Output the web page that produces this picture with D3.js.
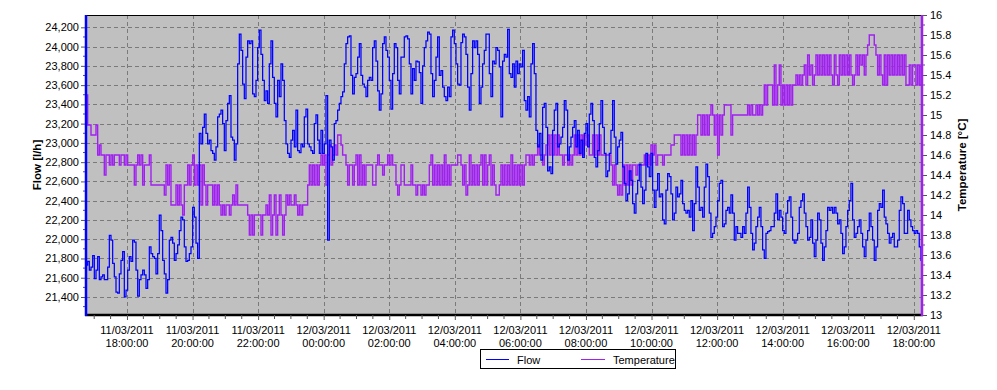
<!DOCTYPE html>
<html><head><meta charset="utf-8">
<script src="https://cdn.jsdelivr.net/npm/d3@7"></script>
<style>
body{margin:0;background:#fff;}
svg{display:block;font-family:"Liberation Sans",Arial,sans-serif;}
</style></head><body>
<svg id="chart" width="997" height="390"></svg>
<script>
// ---- data ----
const startTime = "2011-03-11T16:45:00";
const endTime = "2011-03-12T18:15:00";
const sampleSeconds = 183;
const seriesNames = ["Flow", "Temperature"];
const flowValues = [
21730,21770,21680,21710,21830,21590,21680,21820,21580,21610,
21630,21580,21580,21710,22040,21990,21750,21610,21450,21440,
21640,21780,21870,21400,21470,21680,21820,21770,21990,21970,
21680,21410,21580,21630,21680,21630,21490,21580,21920,21850,
21820,21800,21640,21850,22250,22090,21780,21640,21440,21580,
21990,22020,21960,21780,21850,21940,22090,22230,22200,21920,
21770,21780,21850,21920,22330,22230,21960,21800,23100,22990,
23160,23300,23100,22990,23030,22920,22890,22820,22960,23270,
23300,23340,23200,22920,23230,23410,23490,23060,23030,22820,
22990,23820,24130,23960,23610,23460,23890,24060,24030,24060,
23510,23480,23650,23990,24170,23920,23650,23440,23540,23410,
23820,24060,23680,23410,23270,23650,23480,23820,23650,23230,
22990,22890,22850,23030,23130,22960,23340,
22920,22900,22990,22960,23270,23350,22990,22960,22920,22890,
23200,23290,23030,22890,23130,22890,22990,23490,21990,23030,
22960,22820,23200,23230,23340,23410,23480,23530,23820,24030,
24100,24110,23700,23510,23680,23720,23890,24030,23700,23610,
23580,23480,23650,23680,23650,23990,24060,23850,23540,23340,
23510,24030,24100,23960,23890,23650,23350,23720,24030,23990,
23650,23510,23890,23890,24100,24110,24080,23820,23510,23770,
23650,23850,23840,23730,23410,23800,23990,24060,24150,24130,
23720,23480,23650,23890,24100,23700,23750,23580,23480,23440,
23580,23480,24100,24170,24030,23820,23610,23600,24040,24130,
24100,23920,23580,23340,23720,24060,23990,24060,23920,23410,
23580,23820,23960,24130,24130,23720,23480,23850,23820,23990,
23960,23790,23270,23850,23920,23890,
24180,23720,23680,23820,23580,23850,23720,23820,23790,23960,
23440,23340,23480,23270,23820,24030,23720,23130,22960,23100,
22820,23370,23410,23160,22710,22750,22680,23130,23340,23410,
22960,22990,23060,23160,23440,23340,22820,22960,23060,23160,
23230,22960,23130,22890,23030,22850,23100,23200,22960,23300,
23410,23230,22850,22750,22920,23200,23440,23160,22890,22650,
22710,22890,23130,23440,23060,22780,22960,23030,23110,22750,
22580,22400,22470,22710,22610,22370,22270,22470,22610,22780,
22540,22370,22510,22890,22750,22650,22890,22510,22330,22510,
22680,22440,22470,22200,22160,22510,22680,22650,22470,22200,
22270,22540,22440,22470,22610,22370,22300,22270,22300,22230,
22400,22090,22370,22750,22540,22300,22330,22230,22540,22780,
22650,22270,22020,22060,22130,22230,
22400,22580,22610,22130,22160,22300,22330,22270,22460,22270,
21990,22130,22060,22060,22020,22130,22060,22270,22540,22330,
22060,21890,21960,22130,22230,22330,22130,21890,21800,22060,
22080,22090,22130,22130,22270,22470,22200,22300,22230,22090,
22060,22270,22400,22440,22230,21990,21960,21990,22060,22330,
22400,22470,22270,22130,21990,22020,22200,21960,21820,21990,
22270,22200,21960,21780,21920,22090,22330,22300,22330,22270,
22330,22270,22160,22200,22060,21850,21920,22130,22300,22400,
22580,22200,22020,22060,22130,22200,22060,21920,21820,21990,
22090,22270,22130,21990,21780,21920,22300,22370,22330,22510,
22230,22160,22060,21960,22020,22060,21920,21920,21990,22300,
22440,22370,22060,22060,22300,22200,22130,22090,22060,22090,
22060,21920,21780,21750
];
const tempValues = [
15.2,14.9,14.9,14.8,14.8,14.8,14.9,14.6,14.7,14.6,
14.6,14.4,14.6,14.6,14.5,14.6,14.5,14.6,14.6,14.6,
14.5,14.6,14.6,14.5,14.6,14.5,14.5,14.5,14.5,14.3,
14.5,14.6,14.5,14.6,14.3,14.5,14.5,14.5,14.6,14.3,
14.3,14.3,14.3,14.3,14.3,14.3,14.3,14.2,14.5,14.3,
14.5,14.1,14.1,14.1,14.3,14.1,14.3,14.1,14.0,14.3,
14.3,14.5,14.3,14.5,14.6,14.3,14.5,14.3,14.5,14.1,
14.5,14.3,14.1,14.3,14.3,14.3,14.1,14.3,14.1,14.3,
14.1,14.0,14.1,14.0,14.1,14.1,14.0,14.1,14.2,14.1,
14.3,14.1,14.1,14.1,14.1,14.1,14.1,14.0,13.8,14.0,
13.8,14.0,14.0,14.0,14.0,13.8,14.0,14.0,14.1,14.0,
14.2,13.8,14.0,14.2,13.8,14.0,14.2,14.0,13.8,14.0,
14.2,14.1,14.2,14.1,14.1,14.2,14.1,
14.0,14.1,14.0,14.1,14.1,14.1,14.3,14.5,14.3,14.5,
14.3,14.5,14.3,14.5,14.6,14.5,14.6,14.3,14.6,14.7,
14.5,14.6,14.7,14.6,14.8,14.8,14.7,14.6,14.6,14.5,
14.3,14.5,14.5,14.3,14.5,14.6,14.3,14.6,14.3,14.5,
14.3,14.5,14.5,14.5,14.5,14.3,14.3,14.5,14.6,14.5,
14.5,14.4,14.5,14.5,14.6,14.5,14.6,14.5,14.5,14.3,
14.2,14.3,14.5,14.5,14.3,14.3,14.3,14.3,14.5,14.3,
14.3,14.2,14.3,14.3,14.2,14.3,14.2,14.3,14.3,14.5,
14.6,14.3,14.5,14.3,14.5,14.3,14.5,14.3,14.6,14.3,
14.5,14.3,14.5,14.5,14.5,14.5,14.6,14.6,14.5,14.3,
14.5,14.2,14.3,14.6,14.3,14.5,14.3,14.5,14.3,14.5,
14.6,14.3,14.6,14.3,14.5,14.6,14.3,14.5,14.3,14.2,
14.2,14.3,14.5,14.3,14.5,14.3,
14.5,14.3,14.6,14.3,14.5,14.3,14.5,14.3,14.5,14.3,
14.5,14.6,14.6,14.5,14.6,14.5,14.6,14.6,14.7,14.6,
14.6,14.5,14.6,14.7,14.8,14.6,14.8,14.6,14.8,14.6,
14.8,14.6,14.6,14.5,14.6,14.6,14.5,14.6,14.5,14.6,
14.8,14.6,14.8,14.6,14.8,14.6,14.8,14.7,14.8,14.6,
14.6,14.8,14.6,14.8,14.6,14.8,14.6,14.6,14.6,14.6,
14.6,14.6,14.5,14.3,14.5,14.3,14.2,14.3,14.2,14.5,
14.3,14.5,14.3,14.5,14.3,14.5,14.5,14.4,14.5,14.5,
14.5,14.5,14.6,14.5,14.6,14.5,14.7,14.6,14.7,14.5,
14.6,14.6,14.6,14.5,14.6,14.6,14.6,14.6,14.7,14.7,
14.8,14.8,14.8,14.8,14.6,14.8,14.6,14.8,14.6,14.8,
14.6,14.8,14.6,14.8,15.0,15.0,14.8,15.0,14.8,15.0,
14.8,15.0,15.1,15.0,14.8,15.0,
14.6,15.0,14.8,15.0,15.1,15.1,15.1,15.1,14.8,15.0,
15.0,15.0,15.0,15.0,15.0,15.0,15.0,15.0,15.1,15.0,
15.1,15.0,15.0,15.1,15.0,15.1,15.0,15.1,15.3,15.1,
15.3,15.3,15.3,15.1,15.5,15.1,15.3,15.5,15.1,15.3,
15.1,15.3,15.1,15.3,15.1,15.3,15.3,15.4,15.3,15.4,
15.3,15.4,15.5,15.3,15.6,15.4,15.5,15.3,15.4,15.6,
15.4,15.6,15.4,15.6,15.4,15.6,15.4,15.6,15.4,15.3,
15.6,15.4,15.3,15.6,15.4,15.6,15.4,15.6,15.4,15.6,
15.4,15.3,15.4,15.6,15.4,15.6,15.5,15.6,15.4,15.6,
15.7,15.8,15.8,15.8,15.7,15.6,15.4,15.6,15.4,15.3,
15.6,15.3,15.6,15.4,15.6,15.4,15.6,15.4,15.6,15.4,
15.6,15.4,15.6,15.3,15.3,15.5,15.3,15.5,15.5,15.3,
15.5,15.3,15.5,15.3
];
const flowTicks = [21400,21600,21800,22000,22200,22400,22600,22800,23000,23200,23400,23600,23800,24000,24200];
const flowDomain = [21213, 24328];
const tempTicks = [13,13.2,13.4,13.6,13.8,14,14.2,14.4,14.6,14.8,15,15.2,15.4,15.6,15.8,16];
const tempDomain = [13, 16];
const timeTicks = ["2011-03-11T18:00:00","2011-03-11T20:00:00","2011-03-11T22:00:00","2011-03-12T00:00:00",
  "2011-03-12T02:00:00","2011-03-12T04:00:00","2011-03-12T06:00:00","2011-03-12T08:00:00",
  "2011-03-12T10:00:00","2011-03-12T12:00:00","2011-03-12T14:00:00","2011-03-12T16:00:00","2011-03-12T18:00:00"];
const axisTitles = ["Flow [l/h]", "Temperature [°C]"];
const colors = {flow:"#0000ff", temp:"#a020f0"};

// ---- layout ----
const L = 86, R = 922, T = 15, B = 315;
const parse = d3.timeParse("%Y-%m-%dT%H:%M:%S");
const t0 = parse(startTime), t1 = parse(endTime);
const x = d3.scaleTime().domain([t0, t1]).range([L, R]);
const yF = d3.scaleLinear().domain(flowDomain).range([B, T]);
const yT = d3.scaleLinear().domain(tempDomain).range([B, T]);
const times = flowValues.map((_, i) => new Date(t0.getTime() + i * sampleSeconds * 1000));

const svg = d3.select("#chart");
svg.append("rect").attr("x", L).attr("y", T).attr("width", R - L).attr("height", B - T).attr("fill", "#c0c0c0");

// grid
const grid = svg.append("g").attr("stroke", "#7a7a7a").attr("stroke-dasharray", "4,3").attr("stroke-width", 1);
flowTicks.forEach(v => grid.append("line").attr("x1", L).attr("x2", R)
  .attr("y1", Math.round(yF(v)) + 0.5).attr("y2", Math.round(yF(v)) + 0.5));
const tTicks = timeTicks.map(parse);
tTicks.forEach(t => grid.append("line").attr("y1", T).attr("y2", B)
  .attr("x1", Math.round(x(t)) + 0.5).attr("x2", Math.round(x(t)) + 0.5));

svg.append("clipPath").attr("id", "clip").append("rect").attr("x", L).attr("y", T).attr("width", R - L).attr("height", B - T);

const lineT = d3.line().x((d, i) => x(times[i])).y(d => yT(d)).curve(d3.curveStepAfter);
const lineF = d3.line().x((d, i) => x(times[i])).y(d => yF(d)).curve(d3.curveStepAfter);
svg.append("path").attr("clip-path", "url(#clip)").attr("d", lineT(tempValues))
  .attr("fill", "none").attr("stroke", colors.temp).attr("stroke-width", 1.4);
svg.append("path").attr("clip-path", "url(#clip)").attr("d", lineF(flowValues))
  .attr("fill", "none").attr("stroke", colors.flow).attr("stroke-width", 1.25);

// frame
svg.append("line").attr("x1", L).attr("x2", R).attr("y1", T + 0.5).attr("y2", T + 0.5).attr("stroke", "#000");
svg.append("line").attr("x1", L - 1).attr("x2", R + 1).attr("y1", B).attr("y2", B).attr("stroke", "#000").attr("stroke-width", 2.5);

// left axis
const leftAxis = d3.axisLeft(yF).tickValues(flowTicks).tickFormat(d3.format(",")).tickSize(5).tickPadding(2);
const gL = svg.append("g").attr("transform", `translate(${L},0)`).call(leftAxis);
gL.select(".domain").remove();
gL.selectAll("line").attr("stroke", "#555");
gL.selectAll("text").attr("font-size", "11px").attr("fill", "#000").attr("font-family", "Liberation Sans, Arial");
const flowMinor = d3.range(21300, 24300, 100).filter(v => v % 200 !== 0);
flowMinor.forEach(v => svg.append("line").attr("x1", L - 3).attr("x2", L)
  .attr("y1", yF(v)).attr("y2", yF(v)).attr("stroke", "#555"));
svg.append("line").attr("x1", L).attr("x2", L).attr("y1", T).attr("y2", B + 1).attr("stroke", colors.flow).attr("stroke-width", 2.5);

// right axis
const rightAxis = d3.axisRight(yT).tickValues(tempTicks).tickFormat(d3.format("~g")).tickSize(5).tickPadding(3);
const gR = svg.append("g").attr("transform", `translate(${R},0)`).call(rightAxis);
gR.select(".domain").remove();
gR.selectAll("line").attr("stroke", "#555");
gR.selectAll("text").attr("font-size", "11px").attr("fill", "#000").attr("font-family", "Liberation Sans, Arial");
const tempMinor = d3.range(13.1, 16, 0.2);
tempMinor.forEach(v => svg.append("line").attr("x1", R).attr("x2", R + 3)
  .attr("y1", yT(v)).attr("y2", yT(v)).attr("stroke", "#555"));
svg.append("line").attr("x1", R).attr("x2", R).attr("y1", T).attr("y2", B + 1).attr("stroke", colors.temp).attr("stroke-width", 2.5);

// bottom axis
const bottomAxis = d3.axisBottom(x).tickValues(tTicks).tickSize(5).tickFormat("");
const gB = svg.append("g").attr("transform", `translate(0,${B})`).call(bottomAxis);
gB.select(".domain").remove();
gB.selectAll("line").attr("stroke", "#555");
const minorTimes = d3.timeMinute.every(30).range(t0, t1).filter(t => t.getMinutes() === 30 || t.getHours() % 2 === 1);
minorTimes.forEach(t => svg.append("line").attr("x1", x(t)).attr("x2", x(t)).attr("y1", B).attr("y2", B + 4).attr("stroke", "#555"));
const fDate = d3.timeFormat("%d/%m/%Y"), fTime = d3.timeFormat("%H:%M:%S");
tTicks.forEach(t => {
  const tx = svg.append("text").attr("x", x(t)).attr("text-anchor", "middle").attr("font-size", "11px").attr("fill", "#000");
  tx.append("tspan").attr("x", x(t)).attr("y", 334).text(fDate(t));
  tx.append("tspan").attr("x", x(t)).attr("y", 347).text(fTime(t));
});

// axis titles
svg.append("text").attr("transform", "translate(41,165) rotate(-90)").attr("text-anchor", "middle")
  .attr("font-weight", "bold").attr("font-size", "11.5px").text(axisTitles[0]);
svg.append("text").attr("transform", "translate(966,165) rotate(-90)").attr("text-anchor", "middle")
  .attr("font-weight", "bold").attr("font-size", "11.5px").text(axisTitles[1]);

// legend
const lg = svg.append("g");
lg.append("rect").attr("x", 480.5).attr("y", 349.5).attr("width", 195).attr("height", 19).attr("fill", "#fff").attr("stroke", "#000");
lg.append("line").attr("x1", 486).attr("x2", 509).attr("y1", 359.5).attr("y2", 359.5).attr("stroke", colors.flow);
lg.append("text").attr("x", 517).attr("y", 363.5).attr("font-size", "11px").text(seriesNames[0]);
lg.append("line").attr("x1", 581).attr("x2", 605).attr("y1", 359.5).attr("y2", 359.5).attr("stroke", colors.temp);
lg.append("text").attr("x", 613).attr("y", 363.5).attr("font-size", "11px").text(seriesNames[1]);
</script>
</body></html>
